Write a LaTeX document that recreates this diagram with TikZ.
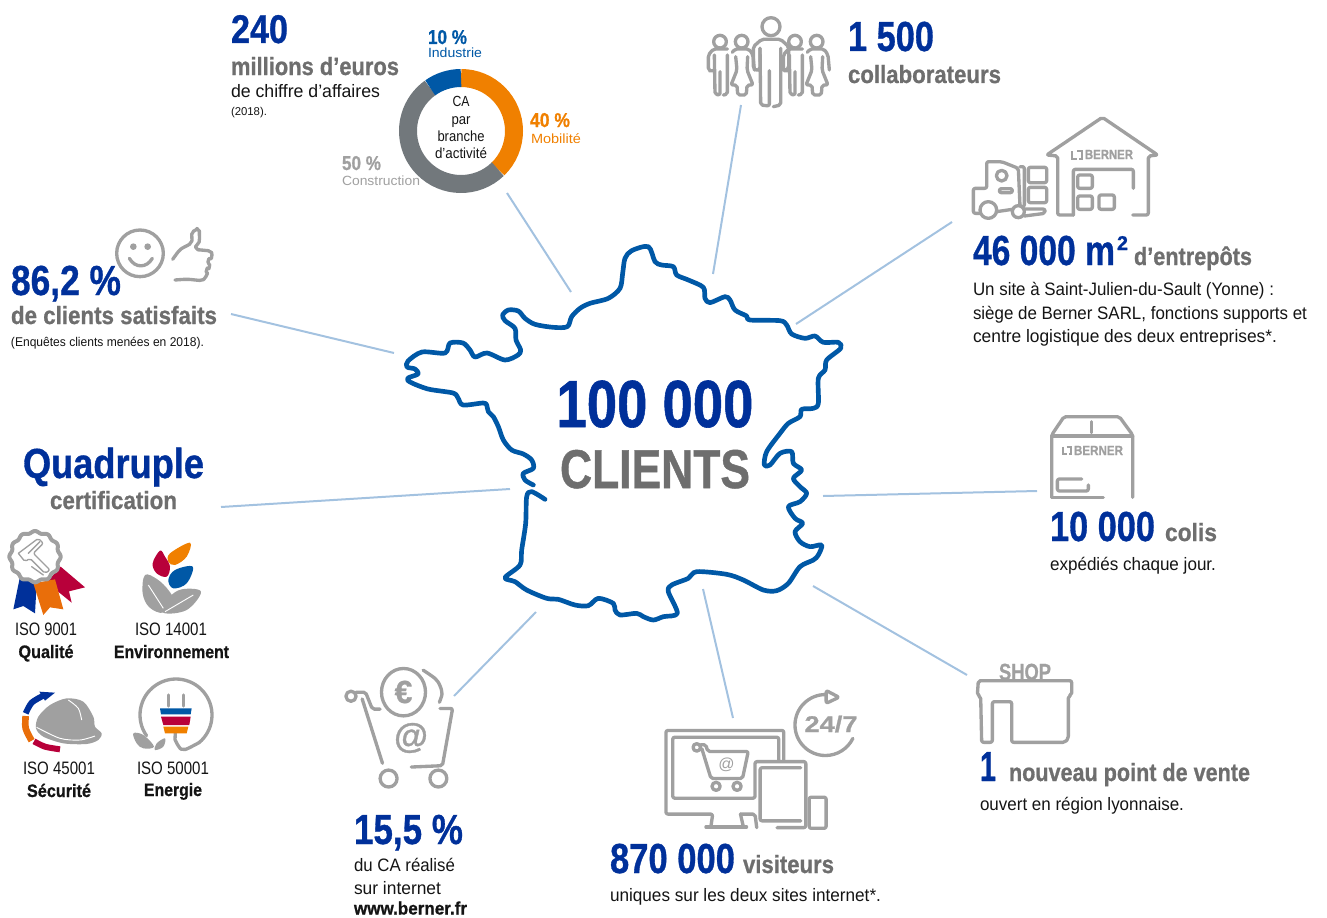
\documentclass[tikz,border=0pt]{standalone}
\usepackage{fontspec}
\usepackage{graphicx}
\setmainfont{Liberation Sans}[BoldFeatures={FakeBold=0.9}]
\definecolor{bblue}{HTML}{00309A}
\definecolor{mblue}{HTML}{0058A6}
\definecolor{tgray}{HTML}{6E6E6E}
\definecolor{icong}{HTML}{A0A0A0}
\definecolor{ink}{HTML}{141414}
\definecolor{linkc}{HTML}{A3C2E0}
\definecolor{oran}{HTML}{F08000}
\definecolor{oran2}{HTML}{E96E0A}
\definecolor{crim}{HTML}{B8003A}
\definecolor{ringg}{HTML}{72787C}
\newcommand\fitx[2]{\sbox0{#2}\pgfmathsetmacro\myfx{#1*0.75/\the\wd0}\scalebox{\myfx}[1]{\usebox0}}
% [anchor] name x y size(pt) width(px) colour text
\newcommand\lbl[8][base west]{\node[anchor=#1,inner sep=0pt,outer sep=0pt,text=#7] (#2) at (#3,#4) {\fontsize{#5pt}{#5pt}\selectfont\fitx{#6}{#8}};}
\tikzset{
 zoomat/.style 2 args={shift={(#1,#2)},x=0.25pt,y=-0.25pt},
 zoomb/.style 2 args={shift={(#1,#2)},x=0.254pt,y=-0.254pt},
 icon/.style={draw=icong,line width=2.5pt,line cap=round,line join=round,rounded corners=1.5pt},
 logo/.style={draw=icong,line width=1.5pt,line cap=butt,line join=miter},
 link/.style={draw=linkc,line width=1.5pt},
 ring/.style={line width=13.5pt}
}
\begin{document}
\begin{tikzpicture}[x=0.75pt,y=-0.75pt]
\useasboundingbox (0,0) rectangle (1327,917);

% connectors
\coordinate (c1a) at (507,193); \coordinate (c1b) at (571,292);
\coordinate (c2a) at (741,105); \coordinate (c2b) at (713,274);
\coordinate (c3a) at (952,222); \coordinate (c3b) at (796,324);
\coordinate (c4a) at (1037,491); \coordinate (c4b) at (823,496);
\coordinate (c5a) at (967,675); \coordinate (c5b) at (813,586);
\coordinate (c6a) at (733,718); \coordinate (c6b) at (703,589);
\coordinate (c7a) at (454,696); \coordinate (c7b) at (536,612);
\coordinate (c8a) at (221,507); \coordinate (c8b) at (510,489);
\coordinate (c9a) at (231,314); \coordinate (c9b) at (394,353);
\foreach \n in {1,...,9} \draw[link] (c\n a) -- (c\n b);

% France
\begin{scope}[zoomat={480}{230}]
\draw[draw=mblue,line width=3.5pt,line cap=round,line join=round] plot[smooth,tension=0.5] coordinates {
(160,765)(135,750)(130,730)(160,715)(155,690)(130,672)(95,660)(70,630)(55,590)(40,560)(25,545)(20,525)(9,519)
(-51,525)(-66,504)(-81,489)(-156,477)(-210,456)(-216,444)(-186,432)(-195,417)(-219,411)(-216,393)(-174,366)(-105,369)(-90,339)(-51,339)(-30,360)(-15,381)(21,369)(75,390)(114,375)(122,360)
(108,330)(105,295)(75,272)(68,255)(85,240)(115,243)(135,265)(165,283)(220,292)(262,290)(275,260)(300,235)(330,220)(385,205)(420,175)(428,130)(435,85)(455,62)(505,50)(525,95)(545,105)(580,110)(590,135)(625,150)(670,172)(675,205)(690,218)(735,200)(750,210)(765,240)(800,258)(810,270)(900,272)(920,285)(935,312)(975,325)(1005,318)(1030,337)(1075,337)(1082,355)(1040,390)(1035,420)(1015,445)(1015,520)(1000,535)(965,538)(960,560)(925,580)(900,610)(860,665)(853,705)(870,705)(900,670)(935,665)(940,700)(965,720)(940,745)(960,770)(980,790)(960,815)(925,830)(945,865)(968,880)(945,905)(960,935)(990,950)(1025,945)(1015,975)(1000,990)(960,1010)(925,1060)(890,1082)(850,1080)(790,1050)(740,1033)(650,1025)(625,1045)(575,1065)(565,1085)(592,1150)(550,1160)(520,1170)(490,1160)(470,1150)(420,1155)(405,1140)(400,1120)(355,1105)(325,1127)(285,1125)(235,1108)(200,1105)(140,1080)(105,1055)(75,1043)(120,1005)(125,960)(137,880)(140,800)(155,785)(195,808)};
\end{scope}
\lbl[base]{tcent}{655}{427}{50}{197}{bblue}{\bfseries 100 000}
\lbl[base]{tclients}{655}{488}{41}{190}{tgray}{\bfseries CLIENTS}

% Donut
\draw[ring,draw=oran] (461,131)+(-90:53) arc[start angle=-90,end angle=46,radius=53];
\draw[ring,draw=ringg] (461,131)+(46:53) arc[start angle=46,end angle=234.5,radius=53];
\draw[ring,draw=mblue] (461,131)+(234.5:53) arc[start angle=234.5,end angle=270,radius=53];
\lbl[base]{dca}{461}{107}{11}{17}{ink}{CA}
\lbl[base]{dpar}{461}{124}{11}{19}{ink}{par}
\lbl[base]{dbr}{461}{141}{11}{47}{ink}{branche}
\lbl[base]{dac}{461}{158}{11}{52}{ink}{d’activité}
\lbl{t240}{231}{43}{30}{57}{bblue}{\bfseries 240}
\lbl{tmil}{231}{75}{18.75}{168}{tgray}{\bfseries millions d’euros}
\lbl{tchf}{231}{98}{13.5}{149}{ink}{de chiffre d’affaires}
\lbl{t2018}{231}{115}{8.5}{36}{ink}{(2018).}
\lbl{t10}{428}{44}{15}{39}{mblue}{\bfseries 10 \%}
\lbl{tind}{428}{58}{10}{54}{mblue}{Industrie}
\lbl{t40}{530}{127}{15}{40}{oran}{\bfseries 40 \%}
\lbl{tmob}{531}{143}{10}{50}{oran}{Mobilité}
\lbl{t50}{342}{170}{15}{39}{icong}{\bfseries 50 \%}
\lbl{tcon}{342}{185}{10}{78}{icong}{Construction}

% Collaborateurs
\lbl{t1500}{848}{51}{31.5}{86}{bblue}{\bfseries 1 500}
\lbl{tcol}{848}{83}{18.75}{153}{tgray}{\bfseries collaborateurs}
\begin{scope}[zoomat={690}{0}]
\draw[icon] (243,80) circle[radius=27];
\draw[icon] (210,145)--(210,208)--(200,213)--(190,205)--(190,140)--(215,118)--(272,118)--(296,140)--(296,205)--(286,213)--(272,205);
\draw[icon] (210,145)--(212,315)--(238,318)--(238,212);
\draw[icon] (272,145)--(272,315)--(250,320);
\foreach \px in {90,315}{
 \begin{scope}[shift={(\px,125)}]
 \draw[icon] (0,0) circle[radius=19];
 \draw[icon] (-17,85)--(-26,90)--(-35,85)--(-35,40)--(-20,22)--(22,22);
 \draw[icon] (-17,40)--(-15,158)--(0,160)--(0,90);
 \draw[icon] (22,40)--(22,158)--(10,160);
 \end{scope}}
\foreach \px in {155,380}{
 \begin{scope}[shift={(\px,125)}]
 \draw[icon] (0,0) circle[radius=19];
 \draw[icon] (-28,32)--(-20,22)--(22,22)--(34,40)--(38,85);
 \draw[icon] (-18,45)--(-14,85)--(-32,130)--(-14,130)--(-12,160)--(14,160)--(16,130)--(34,130)--(16,85)--(18,45);
 \end{scope}}
\end{scope}

% Entrepots
\lbl{t46}{973}{265}{31.5}{142}{bblue}{\bfseries 46 000 m}
\lbl{tsq}{1117}{250}{15}{11}{bblue}{\bfseries 2}
\lbl{tent}{1134}{265}{18.75}{118}{tgray}{\bfseries d’entrepôts}
\lbl{tl1}{973}{295}{13.5}{301}{ink}{Un site à Saint-Julien-du-Sault (Yonne) :}
\lbl{tl2}{973}{319}{13.5}{334}{ink}{siège de Berner SARL, fonctions supports et}
\lbl{tl3}{973}{342}{13.5}{304}{ink}{centre logistique des deux entreprises*.}
\begin{scope}[zoomat={965}{110}]
\draw[icon] (325,315)--(278,315)--(278,138)--(245,135)--(412,22)--(578,135)--(550,138)--(550,315)--(503,315);
\draw[icon] (325,315)--(325,178)--(505,178)--(505,235);
\draw[icon] (338,195) rectangle (382,235);
\draw[icon] (338,258) rectangle (382,298);
\draw[icon] (402,255) rectangle (448,298);
\draw[logo] (322,123)--(322,147)--(336,147);
\draw[logo] (336,123)--(350,123)--(350,147)--(342,147);
\draw[icon] (45,310)--(25,310)--(25,235)--(65,235)--(65,155)--(110,155)--(160,175)--(165,290)--(178,290)--(178,170)--(165,170);
\draw[icon] (70,300) circle[radius=25];
\draw[icon] (160,305) circle[radius=18];
\draw[icon] (95,305)--(142,298);
\draw[icon] (178,297)--(240,297)--(240,310)--(178,318);
\draw[icon] (190,172) rectangle (245,218);
\draw[icon] (190,232) rectangle (245,278);
\draw[icon] (110,197) circle[radius=16];
\draw[icon] (103,236) rectangle (142,248);
\end{scope}
\lbl{tb1}{1085}{159}{10}{48}{icong}{\bfseries BERNER}

% Colis
\begin{scope}[zoomat={960}{410}]
\draw[icon] (275,262)--(275,75)--(312,20)--(478,20)--(518,75)--(518,262);
\draw[icon] (275,262)--(430,262);
\draw[icon] (275,78)--(518,78);
\draw[icon] (395,35)--(395,68);
\draw[icon] (365,207)--(292,207)--(292,243)--(385,243)--(385,225);
\draw[logo] (308,110)--(308,133)--(322,133);
\draw[logo] (320,110)--(332,110)--(332,133)--(326,133);
\draw[icon] (55,812)--(335,812)--(335,855)--(325,858)--(325,985)--(315,997)--(155,997)--(155,875)--(97,875)--(97,997)--(65,997)--(62,860)--(52,855)--cycle;
\end{scope}
\lbl{tb2}{1074}{455}{10}{49}{icong}{\bfseries BERNER}
\lbl{t10k}{1050}{541}{31.5}{105}{bblue}{\bfseries 10 000}
\lbl{tcolis}{1165}{541}{18.75}{52}{tgray}{\bfseries colis}
\lbl{texp}{1050}{570}{13.5}{166}{ink}{expédiés chaque jour.}

% Shop
\lbl{tshop}{999}{680}{17.5}{52}{icong}{\bfseries SHOP}
\lbl{t1}{980}{781}{31.5}{16}{bblue}{\bfseries 1}
\lbl{tnpv}{1009}{781}{18.75}{241}{tgray}{\bfseries nouveau point de vente}
\lbl{tlyon}{980}{810}{13.5}{204}{ink}{ouvert en région lyonnaise.}

% Visiteurs
\lbl{t870}{610}{873}{31.5}{125}{bblue}{\bfseries 870 000}
\lbl{tvis}{743}{873}{18.75}{91}{tgray}{\bfseries visiteurs}
\lbl{tuni}{610}{901}{13.5}{271}{ink}{uniques sur les deux sites internet*.}
\begin{scope}[zoomb={330}{660}]
\draw[icon] (1340,295)--(1340,208)--(992,208)--(992,455)--(1130,455)--(1125,490);
\draw[icon] (1110,493)--(1230,493);
\draw[icon] (1212,455)--(1255,455)--(1260,495);
\draw[icon] (1212,455)--(1220,490);
\draw[icon] (1325,298)--(1325,228)--(1012,228)--(1012,408)--(1255,408)--(1255,300)--(1405,300)--(1405,495)--(1320,495);
\draw[icon] (1390,318)--(1270,318)--(1270,475)--(1390,475);
\draw[icon] (1415,405) rectangle (1465,497);
\draw[icon] (1083,258) circle[radius=11];
\draw[icon] (1095,250)--(1110,250)--(1115,270)--(1235,270)--(1218,350)--(1125,350)--(1098,262);
\draw[icon] (1140,373) circle[radius=12];
\draw[icon] (1202,373) circle[radius=12];
\draw[icon] (1463,192)+(-90:90) arc[start angle=-90,end angle=-334,radius=90];
\draw[icon] (1465,90)--(1503,110)--(1465,128)--cycle;
% cart
\draw[icon] (62,107) circle[radius=15];
\draw[icon] (77,95)--(105,95)--(125,145)--(148,145);
\draw[icon] (95,115)--(155,305);
\draw[icon] (325,143)--(362,143)--(332,312)--(240,316);
\draw[icon] (173,350) circle[radius=25];
\draw[icon] (320,350) circle[radius=25];
\draw[icon] (217,95) ellipse[x radius=65,y radius=70];
\draw[icon] plot[smooth] coordinates {(275,30)(315,60)(330,95)(323,125)};
\end{scope}
\node[inner sep=0pt,text=icong] (teuro) at (403.5,692) {\fontsize{24pt}{24pt}\selectfont\bfseries €};
\node[inner sep=0pt,text=icong] (tat) at (411,738) {\fontsize{26pt}{26pt}\selectfont\bfseries @};
\node[inner sep=0pt,text=icong] (tat2) at (726.5,765) {\fontsize{12pt}{12pt}\selectfont @};
\lbl[base]{t247}{831}{732}{17}{53}{icong}{\bfseries 24/7}
\lbl{t155}{354}{844}{31.5}{109}{bblue}{\bfseries 15,5 \%}
\lbl{tdu}{354}{871}{13.5}{101}{ink}{du CA réalisé}
\lbl{tsur}{354}{894}{13.5}{87}{ink}{sur internet}
\lbl{twww}{354}{914.5}{13.5}{113}{ink}{\bfseries www.berner.fr}

% Clients satisfaits
\lbl{t862}{11}{295}{31.5}{110}{bblue}{\bfseries 86,2 \%}
\lbl{tsat}{11}{324}{18.75}{206}{tgray}{\bfseries de clients satisfaits}
\lbl{tenq}{11}{346}{9.5}{193}{ink}{(Enquêtes clients menées en 2018).}
\begin{scope}[zoomat={100}{220}]
\draw[icon] (120,100) circle[radius=70];
\fill[icong] (100,80) circle[radius=10] (143,80) circle[radius=10];
\draw[icon] (88,115) .. controls (105,145) and (140,145) .. (157,115);
\draw[icon] plot[smooth,tension=0.4] coordinates {(218,118)(240,90)(272,68)(278,38)(295,30)(298,60)(290,85)(330,95)(335,110)(325,122)(328,140)(320,150)(320,165)(305,180)(260,178)(225,180)};
\end{scope}

% Quadruple
\lbl{tquad}{23}{478}{31.5}{181}{bblue}{\bfseries Quadruple}
\lbl[base]{tcert}{113.5}{509}{18.75}{127}{tgray}{\bfseries certification}
\lbl[base]{ti1}{46}{635}{13.5}{62}{ink}{ISO 9001}
\lbl[base]{ti1b}{46}{658}{13.5}{55}{ink}{\bfseries Qualité}
\lbl[base]{ti2}{171}{635}{13.5}{72}{ink}{ISO 14001}
\lbl[base]{ti2b}{171.5}{658}{13.5}{115}{ink}{\bfseries Environnement}
\lbl[base]{ti3}{59}{774}{13.5}{72}{ink}{ISO 45001}
\lbl[base]{ti3b}{59}{797}{13.5}{64}{ink}{\bfseries Sécurité}
\lbl[base]{ti4}{173}{774}{13.5}{72}{ink}{ISO 50001}
\lbl[base]{ti4b}{173}{796}{13.5}{58}{ink}{\bfseries Energie}
\begin{scope}[zoomat={0}{520}]
% medal
\fill[crim] (140,187)--(182,140)--(255,202)--(207,214)--(215,248)--cycle;
\fill[bblue] (60,170)--(110,190)--(105,280)--(70,258)--(40,268)--cycle;
\fill[oran2] (100,190)--(165,178)--(190,268)--(150,262)--(130,285)--cycle;
\filldraw[draw=icong,fill=white,line width=3pt] plot[domain=0:360,samples=145] ({105+(74+3*cos(12*\x))*cos(\x)},{110+(74+3*cos(12*\x))*sin(\x)}) -- cycle;
\draw[icon,line width=1pt] (55,100)--(115,55)--(130,70)--(100,100)--(150,150)--(135,160)--(90,115)--(75,125)--(55,100);
\draw[icon,line width=1pt] (95,140)--(130,165);
\draw[icon,line width=1pt] (85,100)--(120,65);
% leaves
\fill[icong] plot[smooth cycle,tension=0.6] coordinates {(435,165)(472,178)(505,210)(518,240)(490,278)(448,262)(428,220)};
\fill[icong] plot[smooth cycle,tension=0.6] coordinates {(603,215)(560,270)(490,278)(505,235)(545,208)};
\draw[white,line width=.7pt] (445,195) -- (490,265);
\draw[white,line width=.7pt] (580,225) -- (495,275);
\fill[oran] plot[smooth cycle,tension=0.6] coordinates {(570,68)(560,110)(525,135)(505,125)(510,100)};
\fill[crim] plot[smooth cycle,tension=0.6] coordinates {(480,92)(495,110)(510,140)(500,170)(470,160)(458,130)};
\fill[mblue] plot[smooth cycle,tension=0.6] coordinates {(578,140)(560,190)(520,205)(505,180)(525,150)};
% helmet
\fill[icong] plot[smooth cycle,tension=0.5] coordinates {(108,625)(115,590)(150,555)(200,535)(250,545)(280,590)(285,620)(305,640)(295,660)(260,672)(190,670)(130,650)};
\draw[white,line width=.7pt] plot[smooth] coordinates {(110,622)(180,655)(240,660)(285,648)};
\draw[white,line width=.7pt] plot[smooth] coordinates {(205,540)(235,565)(245,600)};
\draw[bblue,line width=4.5pt] plot[smooth] coordinates {(77,580)(95,548)(128,528)};
\fill[bblue] (118,515)--(165,518)--(135,542)--cycle;
\draw[oran2,line width=5pt] plot[smooth] coordinates {(77,588)(77,625)(95,662)};
\draw[crim,line width=4.5pt] plot[smooth] coordinates {(102,664)(135,680)(180,688)};
% plug
\draw[icon] (528,585)+(145:108) arc[start angle=145,end angle=410,radius=108];
\draw[icon] plot[smooth] coordinates {(597,668)(550,688)(528,665)(526,640)};
\draw[icon] (505,525)--(505,558);
\draw[icon] (550,525)--(550,558);
\fill[mblue] (480,565)--(575,565)--(572,583)--(483,583)--cycle;
\fill[crim] (483,590)--(572,590)--(568,615)--(490,615)--cycle;
\fill[oran] (490,620)--(565,620)--(560,640)--(495,640)--cycle;
\fill[icong] plot[smooth cycle,tension=0.6] coordinates {(400,640)(430,645)(462,680)(430,685)(410,670)};
\fill[icong] plot[smooth cycle,tension=0.6] coordinates {(495,655)(470,670)(465,690)(490,680)};
\end{scope}
\end{tikzpicture}
\end{document}
